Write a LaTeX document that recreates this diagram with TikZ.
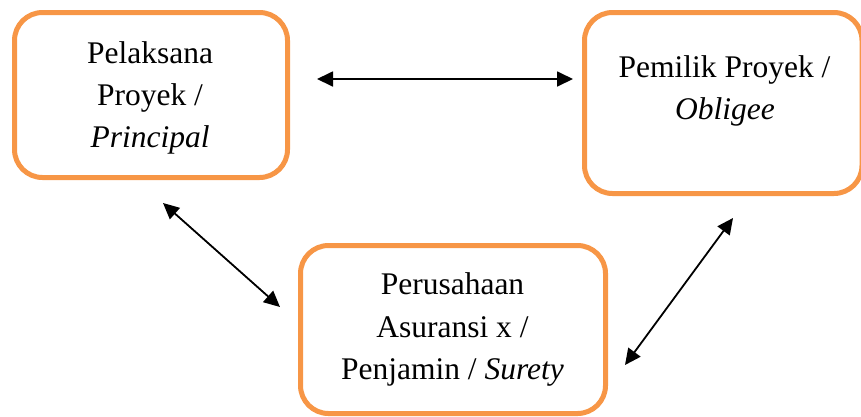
\documentclass[tikz,border=0pt]{standalone}
\usepackage{fontspec}
\setmainfont{Liberation Serif}
\usetikzlibrary{arrows.meta}
\definecolor{boxorange}{HTML}{F79646}
\tikzset{
  box/.style={draw=boxorange, line width=5pt, rounded corners=28pt},
  lbl/.style={anchor=base, inner sep=0pt, font=\fontsize{31.5}{42}\selectfont},
  link/.style={line width=1.8pt, {Triangle[length=16pt,width=15pt]}-{Triangle[length=16pt,width=15pt]}}
}
\begin{document}
\begin{tikzpicture}[x=1pt,y=-1pt]
\useasboundingbox (0,0) rectangle (861,416);
% boxes
\draw[box] (14.5,12.5) rectangle (287.5,177.5);
\draw[box] (584.5,12.5) rectangle (862,193.5);
\draw[box] (300.5,245.5) rectangle (605.5,413.5);
% labels
\node[lbl] (l1) at (150,63) {Pelaksana};
\node[lbl] (l2) at (150,105) {Proyek /};
\node[lbl] (l3) at (150,147) {\textit{Principal}};
\node[lbl] (r1) at (724.5,77) {Pemilik Proyek /};
\node[lbl] (r2) at (725,119) {\textit{Obligee}};
\node[lbl] (b1) at (452.5,294) {Perusahaan};
\node[lbl] (b2) at (452.5,337) {Asuransi x /};
\node[lbl] (b3) at (452.5,379) {Penjamin / \textit{Surety}};
% arrow end points
\coordinate (hA) at (317,79);
\coordinate (hB) at (573,79);
\coordinate (lA) at (163,203);
\coordinate (lB) at (280,307);
\coordinate (rA) at (625,365);
\coordinate (rB) at (733,218);
\draw[link] (hA) -- (hB);
\draw[link] (lA) -- (lB);
\draw[link] (rA) -- (rB);
\end{tikzpicture}
\end{document}
